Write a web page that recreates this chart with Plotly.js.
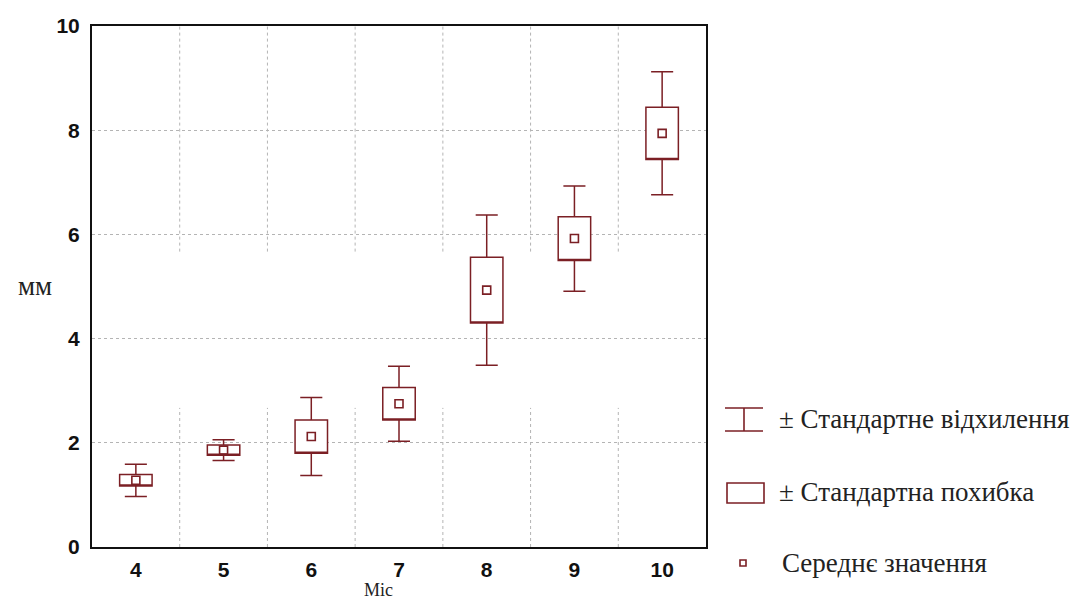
<!DOCTYPE html>
<html>
<head>
<meta charset="utf-8">
<script src="https://cdn.plot.ly/plotly-3.0.1.min.js"></script>
<style>html,body{margin:0;padding:0;background:#fff;}#chart{width:1091px;height:602px;}</style>
</head>
<body>
<div id="chart"></div>
<script>
// ---- data ----
const months = [4, 5, 6, 7, 8, 9, 10];
const tickLabels = ["4", "5", "6", "7", "8", "9", "10"];
const meanVals = [1.28, 1.86, 2.12, 2.75, 4.93, 5.92, 7.94];
const seVals   = [0.11, 0.10, 0.32, 0.31, 0.63, 0.42, 0.50];
const sdVals   = [0.31, 0.20, 0.75, 0.72, 1.44, 1.01, 1.18];
const yTicks = [0, 2, 4, 6, 8, 10];
const legendLabels = ["± Стандартне відхилення", "± Стандартна похибка", "Середнє значення"];
const xTitle = "Міс";
const yTitle = "мм";

// ---- style ----
const RED = "#7b1f24";
const W = 1091, H = 602;
const M = {l: 92, r: 385, t: 26, b: 55};
const PW = W - M.l - M.r, PH = H - M.t - M.b;
const px = x => (x - M.l) / PW;           // pixel -> paper x
const py = y => (H - M.b - y) / PH;       // pixel -> paper y

const q1 = meanVals.map((m, i) => m - seVals[i]);
const q3 = meanVals.map((m, i) => m + seVals[i]);
const lo = meanVals.map((m, i) => m - sdVals[i]);
const hi = meanVals.map((m, i) => m + sdVals[i]);
const bounds = months.slice(1).map(m => m - 0.5);

const traces = [
  {
    type: "box", x: months, q1: q1, median: q1, q3: q3,
    lowerfence: lo, upperfence: hi,
    width: 0.37, whiskerwidth: 0.68,
    fillcolor: "#ffffff", line: {color: RED, width: 1.5},
    boxpoints: false, hoverinfo: "skip", showlegend: false
  },
  {
    type: "scatter", mode: "markers", x: months, y: meanVals,
    marker: {symbol: "square-open", size: 8, color: RED, line: {width: 1.6, color: RED}},
    hoverinfo: "skip", showlegend: false
  }
];

const shapes = [];
const gridStyle = {color: "#b4b4b4", width: 1, dash: "dot"};
bounds.forEach(b => {
  shapes.push({type: "line", xref: "x", yref: "y", x0: b, x1: b, y0: 0, y1: 2.67, line: gridStyle, layer: "below"});
  shapes.push({type: "line", xref: "x", yref: "y", x0: b, x1: b, y0: 5.67, y1: 10, line: gridStyle, layer: "below"});
});
// legend symbols
const ls = {color: RED, width: 1.6};
shapes.push({type: "line", xref: "paper", yref: "paper", x0: px(725), x1: px(763), y0: py(408), y1: py(408), line: ls});
shapes.push({type: "line", xref: "paper", yref: "paper", x0: px(725), x1: px(763), y0: py(431), y1: py(431), line: ls});
shapes.push({type: "line", xref: "paper", yref: "paper", x0: px(744), x1: px(744), y0: py(408), y1: py(431), line: ls});
shapes.push({type: "rect", xref: "paper", yref: "paper", x0: px(727), x1: px(764), y0: py(503), y1: py(483), line: ls, fillcolor: "#fff"});
shapes.push({type: "rect", xref: "paper", yref: "paper", x0: px(740), x1: px(746), y0: py(566), y1: py(560), line: ls, fillcolor: "#fff"});

const serif = "Liberation Serif, Times New Roman, serif";
const annotations = [
  {text: legendLabels[0], x: px(777), y: py(419)},
  {text: legendLabels[1], x: px(777), y: py(492)},
  {text: legendLabels[2], x: px(780), y: py(563)}
].map(a => Object.assign(a, {xref: "paper", yref: "paper", xanchor: "left", yanchor: "middle", showarrow: false,
  font: {family: serif, size: 27, color: "#222"}}));
annotations.push({text: yTitle, xref: "paper", yref: "paper", x: px(35), y: py(286), xanchor: "center", yanchor: "middle",
  showarrow: false, font: {family: serif, size: 27, color: "#222"}});
annotations.push({text: xTitle, xref: "paper", yref: "paper", x: px(378), y: py(602), xanchor: "center", yanchor: "bottom",
  showarrow: false, font: {family: serif, size: 18, color: "#222"}});

const tickFont = {family: "Liberation Sans Narrow, Arial Narrow, Liberation Sans, Arial, sans-serif", size: 21, color: "#111", weight: "bold"};

const layout = {
  width: W, height: H,
  margin: M,
  paper_bgcolor: "#fff", plot_bgcolor: "#fff",
  showlegend: false,
  xaxis: {
    range: [3.5, 10.5], tickvals: months, ticktext: tickLabels, ticks: "",
    showgrid: false, zeroline: false, showline: true, mirror: true, linecolor: "#111", linewidth: 2,
    tickfont: tickFont, ticklabelstandoff: 3
  },
  xaxis2: {
    overlaying: "x", range: [3.5, 10.5], tickvals: bounds, ticks: "inside", ticklen: 5, tickwidth: 1.5,
    tickcolor: "#111", showticklabels: false, showgrid: false, zeroline: false, showline: false, mirror: "ticks", side: "bottom"
  },
  yaxis: {
    range: [0, 10], tickvals: yTicks, ticks: "",
    showgrid: true, gridcolor: "#b4b4b4", griddash: "dot", gridwidth: 1,
    zeroline: false, showline: true, mirror: true, linecolor: "#111", linewidth: 2,
    tickfont: tickFont, ticklabelstandoff: 6
  },
  shapes: shapes,
  annotations: annotations
};

Plotly.newPlot("chart", traces, layout, {displayModeBar: false, staticPlot: true});
</script>
</body>
</html>
